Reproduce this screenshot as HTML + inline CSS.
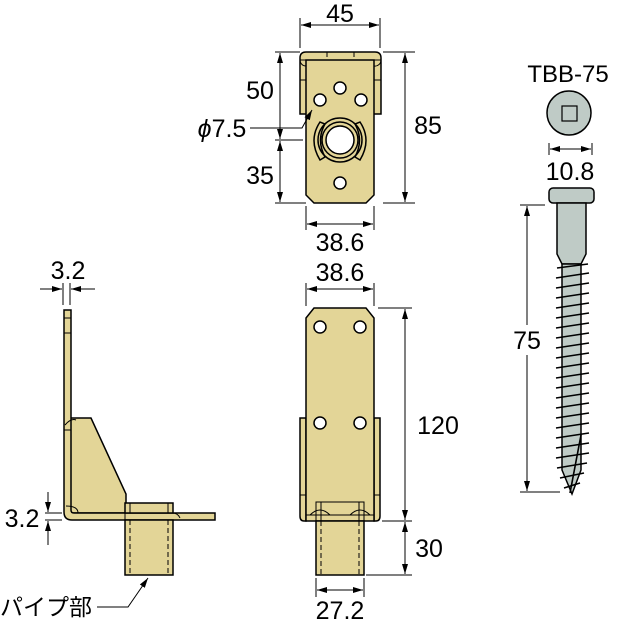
<!DOCTYPE html>
<html><head><meta charset="utf-8"><style>html,body{margin:0;padding:0;background:#fff}svg{display:block}</style></head>
<body>
<svg width="620" height="623" viewBox="0 0 620 623" xmlns="http://www.w3.org/2000/svg" font-family="Liberation Sans, Noto Sans CJK JP, sans-serif" font-size="25" fill="#000">
<defs>
<marker id="a" markerWidth="10" markerHeight="8" refX="10" refY="4" orient="auto-start-reverse" markerUnits="userSpaceOnUse"><path d="M0,1 L10,4 L0,7z" fill="#000"/></marker>
</defs>
<g stroke="#000" stroke-width="1" fill="none">
<!-- TOP VIEW -->
<line x1="300" y1="18" x2="300" y2="48"/><line x1="380" y1="18" x2="380" y2="48"/>
<line x1="301" y1="25" x2="379" y2="25" marker-start="url(#a)" marker-end="url(#a)"/>
<path d="M300,114 L300,58 Q300,52 306,52 L375,52 Q381,52 381,58 L381,114 Z" fill="#e3d597" stroke-width="1.5"/>
<path d="M306,60 L306,195 L314,203 L366,203 L374,195 L374,60 Z" fill="#e3d597" stroke-width="1.5"/>
<line x1="300" y1="60" x2="381" y2="60"/>
<path d="M300,60 A6,6 0 0 0 306,66 M381,60 A6,6 0 0 1 374,66"/>
<line x1="327" y1="52" x2="327" y2="57"/><line x1="354" y1="52" x2="354" y2="57"/>
<line x1="300" y1="80" x2="306" y2="80"/><line x1="374" y1="80" x2="381" y2="80"/>
<g fill="#fff" stroke-width="1.5"><circle cx="340" cy="88" r="6"/><circle cx="320" cy="100" r="6"/><circle cx="361" cy="100" r="6"/><circle cx="340" cy="183" r="6"/></g>
<circle cx="340" cy="140" r="22" stroke-width="1.5"/>
<circle cx="340" cy="140" r="18" stroke-width="1.5"/>
<circle cx="340" cy="140" r="14" fill="#fff" stroke-width="1.5"/>
<path d="M320,122 Q308,140 320,160 L325,157 Q316,140 325,124 Z" stroke-width="1.5"/>
<path d="M360,122 Q372,140 360,160 L355,157 Q364,140 355,124 Z" stroke-width="1.5"/>
<line x1="275" y1="52" x2="300" y2="52"/><line x1="275" y1="140" x2="303" y2="140"/><line x1="275" y1="203" x2="306" y2="203"/>
<line x1="280" y1="53" x2="280" y2="139" marker-start="url(#a)" marker-end="url(#a)"/>
<line x1="280" y1="141" x2="280" y2="202" marker-start="url(#a)" marker-end="url(#a)"/>
<polyline points="250,128 302,128 312,110" marker-end="url(#a)"/>
<line x1="383" y1="52" x2="415" y2="52"/><line x1="383" y1="203" x2="415" y2="203"/>
<line x1="405" y1="53" x2="405" y2="202" marker-start="url(#a)" marker-end="url(#a)"/>
<line x1="306" y1="206" x2="306" y2="230"/><line x1="374" y1="206" x2="374" y2="230"/>
<line x1="307" y1="224" x2="373" y2="224" marker-start="url(#a)" marker-end="url(#a)"/>

<!-- FRONT VIEW -->
<line x1="306" y1="283" x2="306" y2="306"/><line x1="374" y1="283" x2="374" y2="306"/>
<line x1="307" y1="289" x2="373" y2="289" marker-start="url(#a)" marker-end="url(#a)"/>
<path d="M300,418 L306,418 L306,521 L304,521 Q300,521 300,516 Z" fill="#e3d597" stroke-width="1.5"/>
<path d="M380,418 L374,418 L374,521 L376,521 Q380,521 380,516 Z" fill="#e3d597" stroke-width="1.5"/>
<path d="M306,318 L314,308 L366,308 L374,318 L374,521 L306,521 Z" fill="#e3d597" stroke-width="1.5"/>
<line x1="300" y1="495" x2="306" y2="495"/><line x1="374" y1="495" x2="380" y2="495"/>
<g fill="#fff" stroke-width="1.5"><circle cx="320" cy="327" r="6"/><circle cx="360" cy="327" r="6"/><circle cx="320" cy="423" r="6"/><circle cx="360" cy="423" r="6"/></g>
<rect x="316" y="502" width="48" height="19"/>
<line x1="321" y1="502" x2="321" y2="521"/><line x1="359" y1="502" x2="359" y2="521"/>
<path d="M310,515 Q320,505 330,515 Z M350,515 Q360,505 370,515 Z"/>
<line x1="306" y1="515" x2="374" y2="515"/>
<rect x="316" y="521" width="48" height="54" fill="#e3d597" stroke-width="1.5"/>
<line x1="321" y1="521" x2="321" y2="575" stroke-dasharray="5,3"/><line x1="359" y1="521" x2="359" y2="575" stroke-dasharray="5,3"/>
<line x1="378" y1="308" x2="412" y2="308"/><line x1="382" y1="521" x2="412" y2="521"/><line x1="366" y1="575" x2="412" y2="575"/>
<line x1="405" y1="309" x2="405" y2="520" marker-start="url(#a)" marker-end="url(#a)"/>
<line x1="405" y1="522" x2="405" y2="574" marker-start="url(#a)" marker-end="url(#a)"/>
<line x1="316" y1="578" x2="316" y2="597"/><line x1="364" y1="578" x2="364" y2="597"/>
<line x1="317" y1="590" x2="363" y2="590" marker-start="url(#a)" marker-end="url(#a)"/>

<!-- SIDE VIEW -->
<line x1="63" y1="283" x2="63" y2="305"/><line x1="70" y1="283" x2="70" y2="305"/>
<line x1="40" y1="289" x2="62" y2="289" marker-end="url(#a)"/><line x1="95" y1="289" x2="71" y2="289" marker-end="url(#a)"/>
<path d="M69,418 L91,418 L126,494 L126,513 L69,513 Z" fill="#e3d597" stroke-width="1.5"/>
<path d="M64,310 L71,310 L71,510 Q71,513 74,513 L215,513 L215,520 L72,520 Q64,520 64,512 Z" fill="#e3d597" stroke-width="1.5"/>
<line x1="64" y1="318" x2="71" y2="318"/><line x1="64" y1="333" x2="71" y2="333"/><line x1="64" y1="430" x2="71" y2="430"/>
<path d="M65,425 Q71,418 76,420"/><path d="M66,506 Q78,506 78,513"/>
<line x1="78" y1="513" x2="125" y2="513" stroke-dasharray="5,3"/>
<line x1="173" y1="513" x2="215" y2="513" stroke-dasharray="5,3"/>
<rect x="125" y="503" width="48" height="10" fill="#e3d597" stroke-width="1.5"/>
<line x1="130" y1="503" x2="130" y2="513"/><line x1="168" y1="503" x2="168" y2="513"/>
<path d="M125,513 L172,513 Q178,513 180,518"/>
<rect x="125" y="520" width="48" height="55" fill="#e3d597" stroke-width="1.5"/>
<line x1="125" y1="513" x2="125" y2="520"/>
<line x1="130" y1="520" x2="130" y2="575" stroke-dasharray="5,3"/><line x1="168" y1="520" x2="168" y2="575" stroke-dasharray="5,3"/>
<line x1="45" y1="513" x2="62" y2="513"/><line x1="45" y1="520" x2="62" y2="520"/>
<line x1="48" y1="492" x2="48" y2="512" marker-end="url(#a)"/><line x1="48" y1="545" x2="48" y2="521" marker-end="url(#a)"/>
<polyline points="97,607 128,607 148,578" marker-end="url(#a)"/>

<!-- SCREW -->
<circle cx="569" cy="113" r="22" fill="#bfcbc6" stroke-width="1.5"/>
<rect x="562" y="106" width="15" height="15" stroke-width="1.2"/>
<line x1="549" y1="143" x2="549" y2="155"/><line x1="592" y1="143" x2="592" y2="155"/>
<line x1="550" y1="149" x2="591" y2="149" marker-start="url(#a)" marker-end="url(#a)"/>
<rect x="549" y="188" width="45" height="15" rx="4" fill="#bfcbc6" stroke-width="1.5"/>
<path d="M557,203 L586,203 L586,254 L581,264 L562,264 L557,254 Z" fill="#bfcbc6" stroke-width="1.5"/>
<path d="M562,264 L581,264 L581,470 L572,494 L562,470 Z" fill="#bfcbc6" stroke-width="1.5"/>
<g stroke-width="1.6">
<path d="M557,268 L588,264 M556,278 L589,273 M556,288 L589,283 M556,298 L589,293 M556,308 L589,303 M556,318 L589,313 M556,328 L589,323 M556,338 L589,333 M556,348 L589,343 M556,358 L589,353 M556,368 L589,363 M556,378 L589,373 M556,388 L589,383 M556,398 L589,393 M556,408 L589,403 M556,418 L589,413 M556,428 L589,423 M556,438 L589,433 M556,448 L589,443 M556,458 L589,453 M557,468 L587,463 M560,478 L584,473 M564,488 L580,483"/>
<line x1="581" y1="435" x2="570" y2="493"/>
</g>
<line x1="520" y1="205" x2="545" y2="205"/><line x1="520" y1="492" x2="560" y2="492"/>
<line x1="527" y1="206" x2="527" y2="325" marker-start="url(#a)"/>
<line x1="527" y1="355" x2="527" y2="491" marker-end="url(#a)"/>
</g>
<g>
<text x="340" y="22" text-anchor="middle">45</text>
<text x="260" y="99" text-anchor="middle">50</text>
<text x="260" y="184" text-anchor="middle">35</text>
<text x="222" y="137" text-anchor="middle"><tspan font-style="italic">ϕ</tspan>7.5</text>
<text x="428" y="134" text-anchor="middle">85</text>
<text x="340" y="251" text-anchor="middle">38.6</text>
<text x="340" y="281" text-anchor="middle">38.6</text>
<text x="438" y="434" text-anchor="middle">120</text>
<text x="429" y="557" text-anchor="middle">30</text>
<text x="340" y="619" text-anchor="middle">27.2</text>
<text x="68" y="279" text-anchor="middle">3.2</text>
<text x="22" y="527" text-anchor="middle">3.2</text>
<text x="0" y="615" font-size="23">パイプ部</text>
<text x="568" y="82" text-anchor="middle" font-size="24">TBB-75</text>
<text x="570" y="180" text-anchor="middle">10.8</text>
<text x="527" y="349" text-anchor="middle">75</text>
</g>
</svg>
</body></html>
